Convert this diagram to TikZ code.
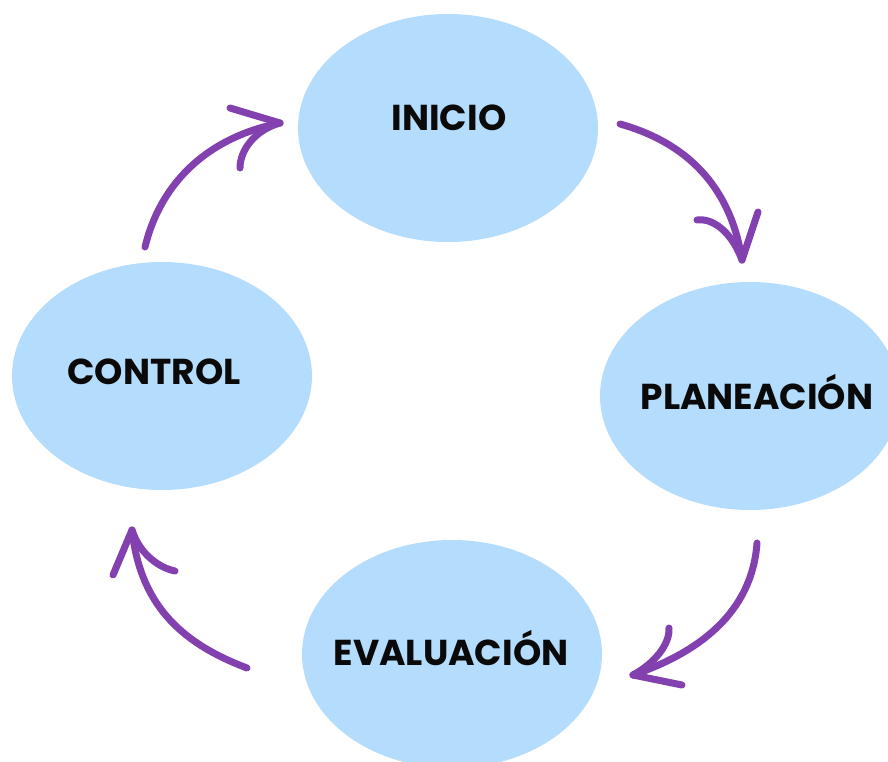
\documentclass[tikz,border=0pt]{standalone}
\usepackage{fontspec}
\setmainfont{Poppins}
\usetikzlibrary{shapes.geometric}
\definecolor{bubble}{HTML}{B4DCFC}
\definecolor{violet}{HTML}{8341AF}
\definecolor{ink}{HTML}{0A0A0A}
\tikzset{
  stage/.style={ellipse, fill=bubble, draw=none, inner sep=0pt,
    minimum width=300pt, minimum height=228pt},
  lab/.style={text=ink, font=\fontsize{36}{38}\selectfont\bfseries},
  stroke/.style={draw=violet, line width=7pt, line cap=round, line join=round},
}
\begin{document}
\begin{tikzpicture}[x=1pt,y=-1pt]
  \useasboundingbox (0,0) rectangle (888,762);
  \clip (0,0) rectangle (888,762);

  % the four stages
  \node[stage] (inicio) at (448,128) {};
  \node[stage] (plan) at (750,396) {};
  \node[stage] (eval) at (452,654) {};
  \node[stage] (control) at (162,376) {};
  \node[lab] at ([xshift=1pt,yshift=10pt]inicio) {INICIO};
  \node[lab] at ([xshift=7pt,yshift=4pt]plan) {PLANEACIÓN};
  \node[lab] at ([xshift=-1pt,yshift=6pt]eval) {EVALUACIÓN};
  \node[lab] at ([xshift=-8pt,yshift=4pt]control) {CONTROL};

  % hand-drawn arrows
  \coordinate (t1) at (280,123);
  \draw[stroke] (145,247) .. controls (160,185) and (205,138) .. (t1);
  \draw[stroke] (t1) -- (230,108);
  \draw[stroke] (t1) .. controls (255,130) and (240,150) .. (240,168);

  \coordinate (t2) at (742,260);
  \draw[stroke] (620,124) .. controls (695,145) and (732,195) .. (t2);
  \draw[stroke] (t2) -- (758,212);
  \draw[stroke] (t2) .. controls (730,228) and (710,218) .. (697,220);

  \coordinate (t3) at (633,675);
  \draw[stroke] (757,543) .. controls (752,612) and (700,652) .. (t3);
  \draw[stroke] (t3) -- (682,685);
  \draw[stroke] (t3) .. controls (660,660) and (670,640) .. (669,628);

  \coordinate (t4) at (132,530);
  \draw[stroke] (247,668) .. controls (178,642) and (140,602) .. (t4);
  \draw[stroke] (t4) -- (113,575);
  \draw[stroke] (t4) .. controls (140,555) and (160,568) .. (175,571);
\end{tikzpicture}
\end{document}
